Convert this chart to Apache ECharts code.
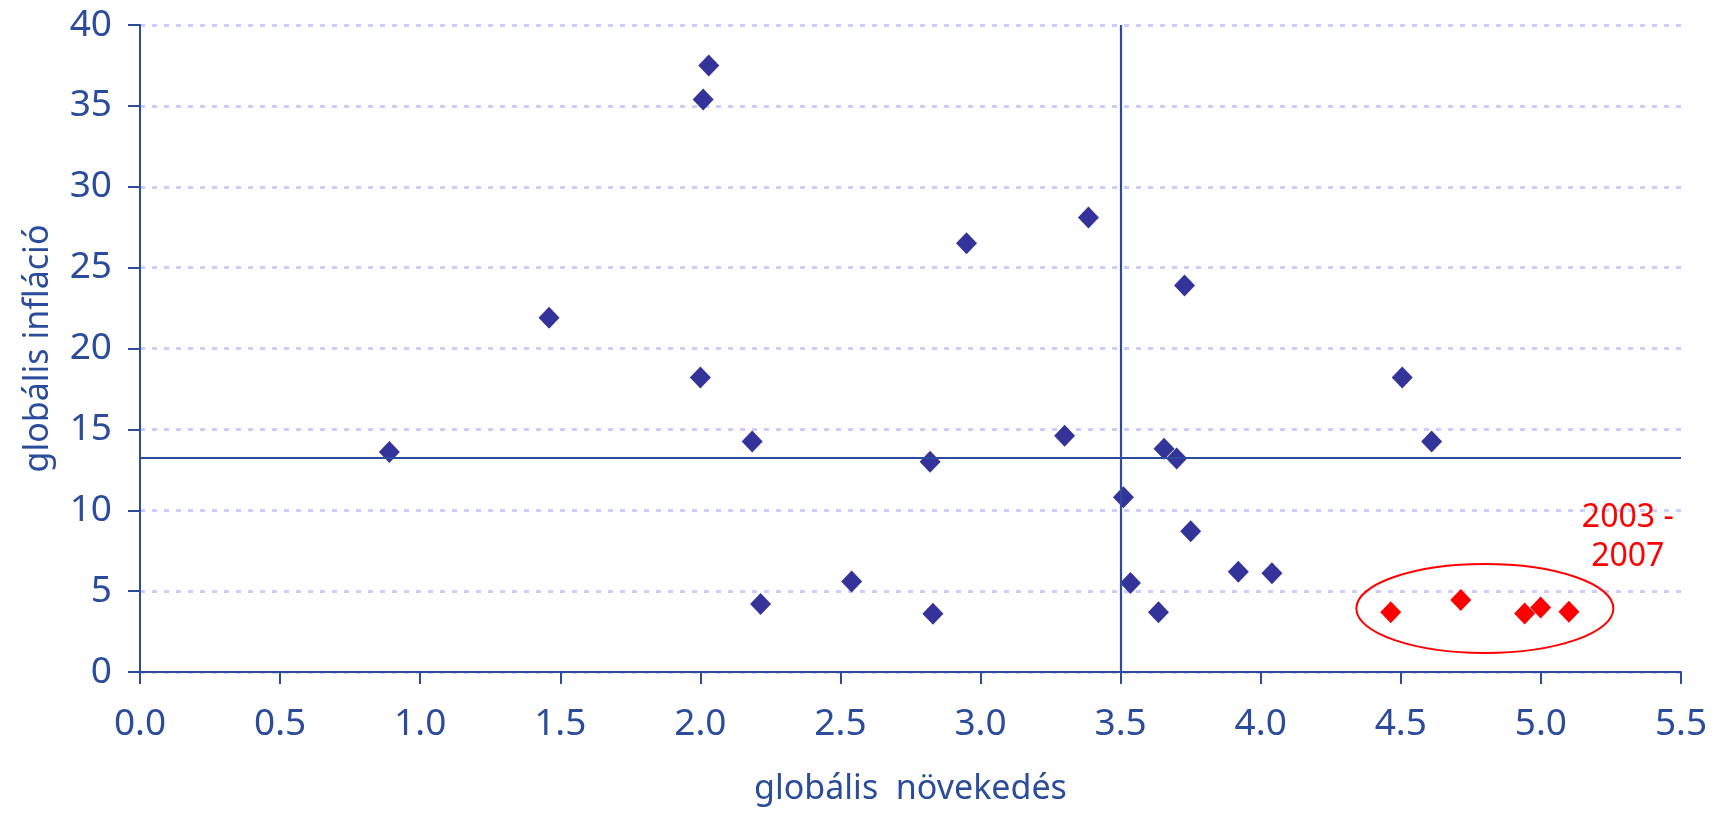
<!DOCTYPE html>
<html>
<head>
<meta charset="utf-8">
<script src="https://cdn.jsdelivr.net/npm/echarts@6/dist/echarts.min.js"></script>
<style>
  html, body { margin: 0; padding: 0; background: #ffffff; }
  #chart { width: 1713px; height: 813px; }
</style>
</head>
<body>
<div id="chart"></div>
<script>
// ---- data ----
var xTickValues = [0.0, 0.5, 1.0, 1.5, 2.0, 2.5, 3.0, 3.5, 4.0, 4.5, 5.0, 5.5];
var yTickValues = [0, 5, 10, 15, 20, 25, 30, 35, 40];

var otherYears = [
  [0.89, 13.6], [1.46, 21.9], [2.01, 35.4], [2.03, 37.5], [2.00, 18.2],
  [2.185, 14.25], [2.215, 4.2], [2.54, 5.6], [2.82, 13.0], [2.83, 3.6],
  [2.95, 26.5], [3.30, 14.6], [3.385, 28.1], [3.51, 10.8], [3.535, 5.5],
  [3.635, 3.7], [3.655, 13.8], [3.70, 13.2], [3.728, 23.9], [3.75, 8.7],
  [3.92, 6.2], [4.04, 6.1], [4.505, 18.2], [4.61, 14.25]
];
var years2003to2007 = [
  [4.464, 3.7], [4.714, 4.45], [4.942, 3.62], [4.999, 3.98], [5.10, 3.73]
];

var meanGrowth = 3.5;
var meanInflation = 13.25;

var xAxisName = 'globális  növekedés';
var yAxisName = 'globális infláció';
var annotationText = '2003 -\n2007';

// annotation placement (data units)
var ellipseCenter = [4.80, 3.93];
var ellipseRadius = [0.4586, 2.75];
var annotationAnchor = [5.31, 8.32];

// ---- chart ----
var FONT = 'Noto Sans';
var BLUE = '#2B4B9B';
var chart = echarts.init(document.getElementById('chart'), null, { renderer: 'canvas' });

var option = {
  backgroundColor: '#ffffff',
  animation: false,
  grid: { left: 140, right: 32, top: 25, bottom: 141, containLabel: false },
  xAxis: {
    type: 'value',
    min: xTickValues[0],
    max: xTickValues[xTickValues.length - 1],
    interval: 0.5,
    name: xAxisName,
    nameLocation: 'middle',
    nameGap: 100,
    nameTextStyle: { color: BLUE, fontFamily: FONT, fontSize: 34 },
    axisLine: { show: true, onZero: false, lineStyle: { color: BLUE, width: 2 } },
    axisTick: { show: true, inside: false, length: 12, lineStyle: { color: BLUE, width: 2 } },
    axisLabel: {
      color: BLUE, fontFamily: FONT, fontSize: 37, margin: 34,
      formatter: function (v) { return v.toFixed(1); }
    },
    splitLine: { show: false }
  },
  yAxis: {
    type: 'value',
    min: yTickValues[0],
    max: yTickValues[yTickValues.length - 1],
    interval: 5,
    name: yAxisName,
    nameLocation: 'middle',
    nameGap: 85,
    nameTextStyle: { color: BLUE, fontFamily: FONT, fontSize: 34 },
    axisLine: { show: true, onZero: false, lineStyle: { color: BLUE, width: 2 } },
    axisTick: { show: true, inside: false, length: 12, lineStyle: { color: BLUE, width: 2 } },
    axisLabel: { color: BLUE, fontFamily: FONT, fontSize: 37, margin: 28 },
    splitLine: { show: true, lineStyle: { color: '#CCCCFF', width: 3, type: [5, 7] } }
  },
  series: [
    {
      name: 'other',
      type: 'scatter',
      symbol: 'diamond',
      symbolSize: [21, 22],
      itemStyle: { color: '#333399', opacity: 1 },
      data: otherYears,
      z: 3,
      markLine: {
        silent: true,
        symbol: ['none', 'none'],
        label: { show: false },
        lineStyle: { color: BLUE, width: 2.2, type: 'solid', opacity: 1 },
        data: [
          { xAxis: meanGrowth },
          { yAxis: meanInflation }
        ]
      }
    },
    {
      name: '2003-2007',
      type: 'scatter',
      symbol: 'diamond',
      symbolSize: [21, 22],
      itemStyle: { color: '#FF0000', opacity: 1 },
      data: years2003to2007,
      z: 4
    }
  ]
};
chart.setOption(option);

function placeAnnotations() {
  var c = chart.convertToPixel({ gridIndex: 0 }, ellipseCenter);
  var e = chart.convertToPixel({ gridIndex: 0 }, [ellipseCenter[0] + ellipseRadius[0], ellipseCenter[1] + ellipseRadius[1]]);
  var t = chart.convertToPixel({ gridIndex: 0 }, annotationAnchor);
  chart.setOption({
    graphic: [
      {
        type: 'ellipse',
        shape: { cx: c[0], cy: c[1], rx: Math.abs(e[0] - c[0]), ry: Math.abs(c[1] - e[1]) },
        style: { fill: 'none', stroke: '#FF0000', lineWidth: 2 },
        z: 5
      },
      {
        type: 'text',
        x: t[0],
        y: t[1],
        style: {
          text: annotationText,
          fill: '#FF0000',
          font: '32px "Noto Sans"',
          align: 'center',
          verticalAlign: 'middle',
          lineHeight: 39
        },
        z: 5
      }
    ]
  });
}
placeAnnotations();
</script>
</body>
</html>
